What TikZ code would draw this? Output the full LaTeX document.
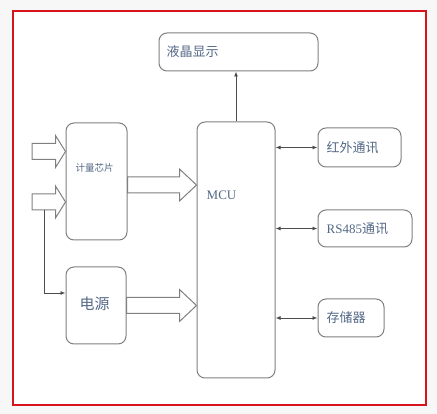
\documentclass[tikz,border=0pt]{standalone}
\usepackage{fontspec}
\setmainfont{Liberation Serif}
\newfontfamily\cjk{Noto Sans CJK SC}
\usetikzlibrary{calc, arrows.meta}

\definecolor{boxgray}{RGB}{128,128,128}
\definecolor{txtblue}{RGB}{84,104,134}
\definecolor{framered}{RGB}{214,20,28}

\tikzset{
    block/.style = {draw=boxgray, line width=1pt, rounded corners=8pt, fill=white, inner sep=0pt},
    txt/.style = {text=txtblue, anchor=west, inner sep=0pt},
    fat/.style = {draw=boxgray, line width=1pt, fill=white, line join=miter},
    link/.style = {draw=black!70, line width=0.9pt},
}

%% horizontal hollow arrow: start, end, head length
\newcommand{\fatarrow}[3]{
    \path[fat] let \p1 = #1, \p2 = #2 in
    (\x1, \y1 - 8pt) -- (\x2 - #3, \y1 - 8pt) -- (\x2 - #3, \y1 - 16pt)
    -- (\x2, \y1) -- (\x2 - #3, \y1 + 16pt) -- (\x2 - #3, \y1 + 8pt)
    -- (\x1, \y1 + 8pt) -- cycle;
}

\begin{document}
\begin{tikzpicture}[x=1pt, y=-1pt, >={Latex[length=5pt, width=4pt]}]
    \fill[black!3] (0, 0) rectangle (437, 414);
    \useasboundingbox (0, 0) rectangle (437, 414);
    \draw[framered, line width=1.6pt, fill=white] (13, 11) rectangle (426, 405);

    %% blocks
    \node[block, minimum width=159pt, minimum height=38pt] (lcd) at (238.5, 52) {};
    \node[block, minimum width=78pt, minimum height=256pt] (mcu) at (236, 250) {};
    \node[block, minimum width=61pt, minimum height=117pt] (chip) at (96.5, 181.5) {};
    \node[block, minimum width=60pt, minimum height=77pt] (power) at (96, 305.5) {};
    \node[block, minimum width=83pt, minimum height=39pt] (ir) at (359.5, 147.5) {};
    \node[block, minimum width=94pt, minimum height=37pt] (rs) at (365, 228.5) {};
    \node[block, minimum width=66pt, minimum height=38pt] (mem) at (351, 318) {};

    %% texts (yshift is upwards)
    \node[txt, font=\cjk\fontsize{13}{13}\selectfont] (lcdtxt) at ([xshift=8pt]lcd.west) {液晶显示};
    \node[txt, font=\fontsize{13}{13}\selectfont] (mcutxt) at ([xshift=10pt, yshift=55pt]mcu.west) {MCU};
    \node[txt, font=\cjk\fontsize{9.5}{10}\selectfont] (chiptxt) at ([xshift=10pt, yshift=13.5pt]chip.west) {计量芯片};
    \node[txt, font=\cjk\fontsize{15}{15}\selectfont] (powertxt) at ([xshift=14pt, yshift=2pt]power.west) {电源};
    \node[txt, font=\cjk\fontsize{13}{13}\selectfont] (irtxt) at ([xshift=9pt]ir.west) {红外通讯};
    \node[txt, font=\fontsize{13}{13}\selectfont] (rstxt) at ([xshift=9pt]rs.west) {RS485{\cjk 通讯}};
    \node[txt, font=\cjk\fontsize{13}{13}\selectfont] (memtxt) at ([xshift=9pt]mem.west) {存储器};

    %% hollow arrows
    \coordinate (in1) at (32, 151.5);
    \coordinate (in2) at (32, 202);
    \fatarrow{(in1)}{(in1 -| chip.west)}{10pt}
    \fatarrow{(in2)}{(in2 -| chip.west)}{10pt}
    \coordinate (c1) at ($(chip.east) + (0, 3.5)$);
    \fatarrow{(c1)}{(c1 -| mcu.west)}{17pt}
    \fatarrow{(power.east)}{(power.east -| mcu.west)}{17pt}

    %% thin connectors
    \draw[link, ->] ($(in2) + (12, 8)$) |- ($(power.west) + (0, -12.5)$);
    \draw[link, ->] (mcu.north) -- (mcu.north |- lcd.south);
    \draw[link, <->] (mcu.east |- ir) -- (ir.west);
    \draw[link, <->] (mcu.east |- rs) -- (rs.west);
    \draw[link, <->] (mcu.east |- mem) -- (mem.west);
\end{tikzpicture}
\end{document}
